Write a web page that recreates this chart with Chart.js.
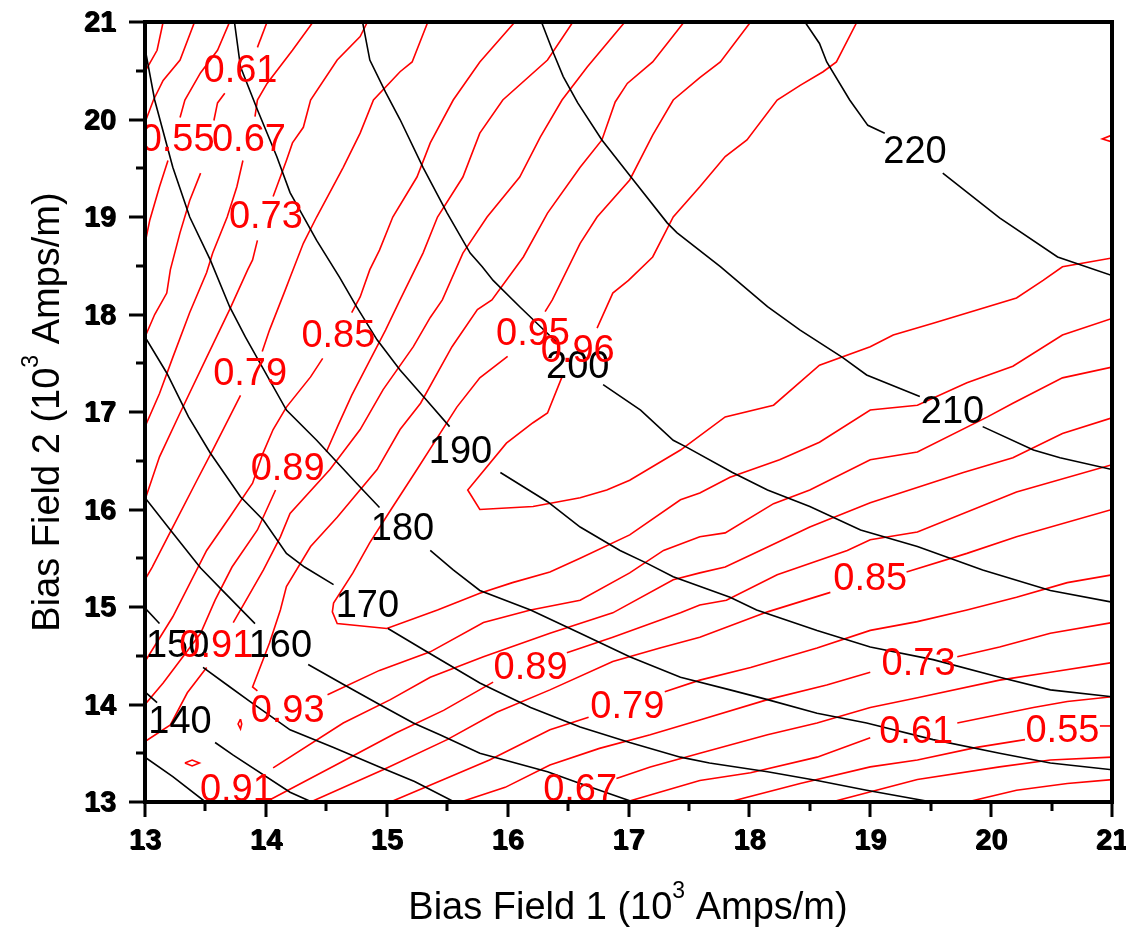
<!DOCTYPE html>
<html>
<head>
<meta charset="utf-8">
<script src="https://cdn.jsdelivr.net/npm/chart.js@4.4.1/dist/chart.umd.min.js"></script>
<style>
  html, body { margin: 0; padding: 0; background: #ffffff; }
  #wrap { width: 1126px; height: 928px; }
</style>
</head>
<body>
<div id="wrap"><canvas id="plot" width="1126" height="928"></canvas></div>
<script>
// Axis ticks (10^3 Amps/m)
const xTicks = [13, 14, 15, 16, 17, 18, 19, 20, 21];
const yTicks = [13, 14, 15, 16, 17, 18, 19, 20, 21];

// Ratio contours (red), each level split into segments at its labels
const ratio043 = [
  [[13.15, 21], [13.10, 20.71], [13.0, 20.49]],
  [[19.80, 13.0], [20.21, 13.12], [20.63, 13.19], [21, 13.23]]
];
const ratio049 = [
  [[13.41, 21], [13.29, 20.61], [13.15, 20.40], [13.07, 20.20], [13.0, 19.97]],
  [[18.68, 13.0], [19.39, 13.23], [20.07, 13.36], [20.49, 13.43], [21, 13.46]]
];
const ratio055 = [
  [[13.70, 21], [13.60, 20.71], [13.46, 20.48], [13.33, 20.20], [13.29, 20.02]],
  [[13.19, 19.58], [13.12, 19.31], [13.04, 18.97], [13.0, 18.73]],
  [[17.83, 13.0], [18.42, 13.19], [19.0, 13.36], [19.39, 13.43], [19.88, 13.56], [20.28, 13.64]],
  [[20.90, 13.78], [21, 13.78]]
];
const ratio061 = [
  [[14.01, 21], [13.93, 20.74]],
  [[13.66, 20.27], [13.60, 20.17], [13.57, 19.99]],
  [[13.46, 19.45], [13.37, 19.17], [13.29, 18.84], [13.21, 18.46], [13.18, 18.22], [13.08, 18.0], [13.0, 17.77]],
  [[16.98, 13.0], [17.59, 13.22], [18.01, 13.30], [18.56, 13.46], [19.0, 13.66]],
  [[19.72, 13.81], [20.35, 13.97], [20.63, 14.03], [21, 14.08]]
];
const ratio067 = [
  [[14.39, 21], [14.22, 20.71], [14.01, 20.37], [13.93, 20.20], [13.91, 20.03]],
  [[13.81, 19.58], [13.76, 19.31], [13.68, 19.0], [13.56, 18.63], [13.51, 18.43], [13.37, 18.02], [13.23, 17.56], [13.12, 17.19], [13.0, 16.85]],
  [[16.90, 13.24], [17.18, 13.36], [17.59, 13.50], [18.15, 13.69], [18.56, 13.81], [19.0, 13.97], [19.39, 14.07], [20.07, 14.25], [20.49, 14.33], [21, 14.43]]
];
const ratio073 = [
  [[14.84, 21], [14.78, 20.85], [14.59, 20.61], [14.37, 20.20], [14.31, 19.92], [14.22, 19.76], [14.17, 19.58], [14.06, 19.21]],
  [[13.93, 18.76], [13.89, 18.56], [13.85, 18.46], [13.70, 18.05], [13.51, 17.56], [13.29, 16.99], [13.12, 16.54], [13.0, 16.10]],
  [[15.61, 13.0], [15.98, 13.15], [16.35, 13.38], [16.76, 13.55], [17.18, 13.69], [17.59, 13.84], [18.15, 14.05], [18.64, 14.20], [19.0, 14.33]],
  [[19.72, 14.49], [20.07, 14.59], [20.49, 14.73], [21, 14.84]]
];
const ratio079 = [
  [[15.34, 21], [15.21, 20.59], [15.11, 20.49], [14.89, 20.20], [14.78, 19.86], [14.64, 19.51], [14.42, 19.0], [14.31, 18.73], [14.20, 18.38], [14.16, 18.25], [14.03, 17.84], [13.97, 17.62]],
  [[13.79, 17.17], [13.70, 16.95], [13.56, 16.61], [13.43, 16.30], [13.23, 15.82], [13.06, 15.41], [13.0, 15.28]],
  [[15.03, 13.0], [15.47, 13.23], [15.85, 13.43], [16.35, 13.74], [16.67, 13.87]],
  [[17.30, 14.13], [17.59, 14.25], [18.01, 14.38], [18.56, 14.58], [19.0, 14.76], [19.39, 14.85], [19.80, 14.97], [20.21, 15.10], [20.63, 15.25], [21, 15.33]]
];
const ratio085 = [
  [[16.06, 21], [15.77, 20.59], [15.55, 20.20], [15.36, 19.76], [15.25, 19.41], [15.05, 19.0], [14.94, 18.66], [14.86, 18.46], [14.78, 18.18], [14.71, 18.02]],
  [[14.47, 17.55], [14.37, 17.36], [14.17, 17.05], [14.06, 16.82], [13.97, 16.56], [13.89, 16.27], [13.70, 15.92], [13.51, 15.58], [13.23, 14.90], [13.0, 14.44]],
  [[14.37, 13.0], [14.97, 13.33], [15.50, 13.64], [15.91, 13.92], [16.35, 14.15], [16.87, 14.44], [17.26, 14.58], [17.59, 14.69], [18.15, 14.95], [18.67, 15.15]],
  [[19.30, 15.36], [19.80, 15.55], [20.21, 15.72], [21, 16.0]]
];
const ratio089 = [
  [[16.54, 21], [16.33, 20.61], [15.96, 20.20], [15.77, 19.86], [15.63, 19.41], [15.42, 19.0], [15.30, 18.63], [15.11, 18.15], [14.99, 17.84], [14.86, 17.53], [14.71, 17.17], [14.60, 16.87], [14.50, 16.59]],
  [[14.08, 16.20], [13.93, 15.79], [13.72, 15.41], [13.58, 15.07], [13.46, 14.73], [13.15, 14.22], [13.0, 14.0]],
  [[14.03, 13.02], [14.61, 13.40], [15.08, 13.71], [15.47, 13.94], [15.88, 14.23]],
  [[16.49, 14.53], [16.87, 14.69], [17.43, 14.94], [17.59, 15.02], [17.81, 15.07], [18.23, 15.33], [18.81, 15.58], [19.0, 15.69], [19.39, 15.77], [20.21, 16.18], [21, 16.46]]
];
const ratio091 = [
  [[16.97, 21], [16.66, 20.54], [16.45, 20.20], [16.27, 19.82], [16.10, 19.41], [15.83, 19.0], [15.63, 18.63], [15.46, 18.15], [15.36, 17.97], [15.22, 17.67], [14.97, 17.23], [14.78, 16.82], [14.53, 16.41], [14.20, 15.96], [14.12, 15.72], [13.98, 15.38], [13.73, 14.84]],
  [[13.51, 14.38], [13.35, 14.12], [13.21, 13.79], [13.0, 13.62]],
  [[14.06, 13.35], [14.64, 13.81], [15.03, 14.05], [15.36, 14.28], [15.80, 14.49], [16.35, 14.73], [16.87, 14.94], [17.37, 15.28], [17.59, 15.35], [17.80, 15.41], [18.09, 15.58], [18.50, 15.82], [19.0, 16.07], [19.77, 16.38], [20.18, 16.53], [20.59, 16.78], [21, 16.94]]
];
const ratio093 = [
  [[17.46, 21], [17.20, 20.59], [16.99, 20.37], [16.89, 20.18], [16.78, 19.79], [16.60, 19.51], [16.33, 19.04], [16.13, 18.59], [15.87, 18.15], [15.75, 18.05], [15.54, 17.67], [15.28, 17.09], [15.11, 16.82], [14.92, 16.41], [14.59, 15.92], [14.37, 15.62], [14.17, 15.21], [14.12, 14.97], [14.03, 14.63], [13.89, 14.18], [13.93, 14.14]],
  [[14.51, 14.10], [14.94, 14.35], [15.36, 14.54], [15.80, 14.84], [16.19, 14.97], [16.60, 15.07], [17.01, 15.35], [17.29, 15.58], [17.59, 15.72], [17.80, 15.76], [18.20, 16.06], [18.50, 16.20], [19.0, 16.51], [19.39, 16.59], [19.97, 16.95], [20.18, 17.09], [20.59, 17.35], [21, 17.46]],
  [[13.79, 13.85], [13.80, 13.80], [13.79, 13.75], [13.77, 13.80], [13.79, 13.85]],
  [[13.33, 13.40], [13.39, 13.43], [13.45, 13.40], [13.39, 13.37], [13.33, 13.40]]
];
const ratio095 = [
  [[18.01, 21], [17.76, 20.59], [17.59, 20.43], [17.37, 20.20], [17.20, 19.84], [17.01, 19.38], [16.74, 19.0], [16.60, 18.73], [16.37, 18.15], [16.31, 18.03]],
  [[16.00, 17.57], [15.77, 17.35], [15.58, 17.05], [15.42, 16.74], [15.25, 16.41], [15.03, 15.99], [14.86, 15.66], [14.72, 15.35], [14.56, 15.04], [14.55, 14.95], [14.59, 14.83], [15.0, 14.78], [15.42, 14.97], [15.77, 15.14], [16.04, 15.25], [16.35, 15.36], [16.60, 15.50], [17.01, 15.74], [17.43, 16.10], [17.59, 16.17], [17.84, 16.33], [18.25, 16.51], [18.58, 16.69], [19.0, 17.02], [19.39, 17.07], [19.80, 17.30], [20.18, 17.47], [20.59, 17.79], [21, 17.96]]
];
const ratio096 = [
  [[18.89, 21], [18.72, 20.59], [18.61, 20.49], [18.42, 20.35], [18.23, 20.20], [17.98, 19.79], [17.80, 19.62], [17.59, 19.31], [17.37, 19.0], [17.20, 18.59], [17.0, 18.35], [16.87, 18.22], [16.74, 17.86]],
  [[16.45, 17.36], [16.33, 16.99], [16.21, 16.89], [15.99, 16.68], [15.67, 16.20], [15.77, 16.0], [16.21, 16.03], [16.60, 16.12], [16.82, 16.20], [17.01, 16.30], [17.43, 16.61], [17.80, 16.95], [18.20, 17.07], [18.58, 17.48], [19.0, 17.67], [19.19, 17.79], [19.52, 17.91], [20.21, 18.17], [20.43, 18.35], [20.59, 18.49], [21, 18.58]],
  [[21, 19.84], [20.92, 19.80], [21, 19.77]]
];

// Value contours (black)
const value130 = [
  [[13.0, 13.46], [13.23, 13.26], [13.50, 13.0]]
];
const value140 = [
  [[13.0, 14.13], [13.10, 14.02]],
  [[13.58, 13.61], [13.73, 13.48], [14.20, 13.10], [14.38, 13.0]]
];
const value150 = [
  [[13.0, 14.99], [13.12, 14.83]],
  [[13.48, 14.38], [13.68, 14.20], [13.87, 14.03], [14.20, 13.74], [14.56, 13.56], [14.94, 13.36], [15.23, 13.21], [15.56, 13.0]]
];
const value160 = [
  [[13.0, 16.12], [13.21, 15.79], [13.46, 15.40], [13.64, 15.17], [13.91, 14.83]],
  [[14.35, 14.41], [14.65, 14.20], [14.94, 14.0], [15.22, 13.81], [15.44, 13.69], [15.77, 13.50], [16.33, 13.31], [16.60, 13.19], [17.04, 13.0]]
];
const value170 = [
  [[13.0, 17.77], [13.18, 17.40], [13.36, 16.95], [13.54, 16.58], [13.79, 16.13], [13.98, 15.89], [14.17, 15.55], [14.32, 15.41], [14.56, 15.23]],
  [[15.01, 14.78], [15.36, 14.52], [15.77, 14.22], [16.19, 13.97], [16.60, 13.77], [17.01, 13.61], [17.43, 13.46], [17.67, 13.40], [18.15, 13.31], [18.56, 13.22], [18.97, 13.12], [19.51, 13.0]]
];
const value180 = [
  [[13.0, 20.73], [13.08, 20.20], [13.23, 19.51], [13.37, 19.0], [13.54, 18.56], [13.70, 18.08], [13.83, 17.77], [14.17, 17.02], [14.42, 16.71], [14.75, 16.27], [14.94, 16.02]],
  [[15.36, 15.58], [15.55, 15.38], [15.77, 15.17], [16.19, 14.97], [16.60, 14.73], [17.01, 14.49], [17.43, 14.28], [17.84, 14.15], [18.15, 14.05], [18.56, 13.91], [18.97, 13.81], [19.52, 13.64], [20.07, 13.50], [20.49, 13.40], [21, 13.33]]
];
const value190 = [
  [[13.74, 21], [13.79, 20.54], [13.93, 20.10], [14.09, 19.62], [14.20, 19.25], [14.42, 18.76], [14.61, 18.38], [14.75, 18.08], [14.92, 17.74], [15.11, 17.43], [15.33, 17.12], [15.52, 16.85]],
  [[15.94, 16.38], [16.33, 16.08], [16.60, 15.82], [16.93, 15.58], [17.15, 15.45], [17.37, 15.31], [17.84, 15.10], [18.06, 14.97], [18.56, 14.76], [19.0, 14.59], [19.52, 14.46], [20.07, 14.28], [20.49, 14.15], [21, 14.08]]
];
const value200 = [
  [[14.80, 21], [14.86, 20.61], [14.99, 20.28], [15.11, 20.0], [15.30, 19.51], [15.50, 19.04], [15.69, 18.63], [15.79, 18.49], [15.88, 18.35], [16.10, 18.08], [16.41, 17.71]],
  [[16.79, 17.28], [17.10, 17.02], [17.37, 16.71], [17.48, 16.64], [17.86, 16.38], [18.15, 16.20], [18.50, 16.03], [18.92, 15.79], [19.39, 15.62], [19.93, 15.38], [20.49, 15.17], [21, 15.05]]
];
const value210 = [
  [[16.28, 21], [16.38, 20.68], [16.46, 20.44], [16.58, 20.17], [16.78, 19.79], [17.04, 19.38], [17.32, 18.94], [17.40, 18.84], [17.76, 18.49], [18.15, 18.08], [18.42, 17.84], [18.77, 17.56], [18.97, 17.38], [19.41, 17.16]],
  [[19.93, 16.85], [20.35, 16.61], [20.57, 16.53], [21, 16.41]]
];
const value220 = [
  [[18.46, 21], [18.58, 20.78], [18.64, 20.59], [18.83, 20.20], [18.98, 19.94], [19.12, 19.86]],
  [[19.60, 19.45], [20.07, 18.99], [20.55, 18.59], [21, 18.40]]
];

// Inline contour labels: text and anchor (data units)
const valueLabelText = ['140', '150', '160', '170', '180', '190', '200', '210', '220'];
const valueLabelX = [13.29, 13.27, 14.12, 14.84, 15.13, 15.61, 16.58, 19.68, 19.37];
const valueLabelY = [13.82, 14.59, 14.59, 15.0, 15.79, 16.58, 17.46, 16.99, 19.66];

const ratioLabelText = ['0.61', '0.55', '0.67', '0.73', '0.79', '0.85', '0.89', '0.91', '0.93', '0.91',
  '0.95', '0.96', '0.89', '0.79', '0.67', '0.85', '0.73', '0.61', '0.55'];
const ratioLabelX = [13.79, 13.27, 13.86, 14.0, 13.87, 14.60, 14.18, 13.59, 14.18, 13.76,
  16.21, 16.58, 16.19, 16.99, 16.60, 19.0, 19.40, 19.38, 20.59];
const ratioLabelY = [20.49, 19.78, 19.78, 18.99, 17.38, 17.77, 16.41, 14.59, 13.93, 13.12,
  17.79, 17.62, 14.37, 13.97, 13.12, 15.28, 14.41, 13.71, 13.72];

const ratioLevels = [
  [0.43, ratio043], [0.49, ratio049], [0.55, ratio055], [0.61, ratio061], [0.67, ratio067],
  [0.73, ratio073], [0.79, ratio079], [0.85, ratio085], [0.89, ratio089], [0.91, ratio091],
  [0.93, ratio093], [0.95, ratio095], [0.96, ratio096]
];
const valueLevels = [
  [130, value130], [140, value140], [150, value150], [160, value160], [170, value170],
  [180, value180], [190, value190], [200, value200], [210, value210], [220, value220]
];

const FONT = '"Liberation Sans", Arial, Helvetica, sans-serif';
const LABEL_FONT = '38px ' + FONT;
const TITLE_SIZE = 38;
const SUP_SIZE = 23;

const toDatasets = (levels, color) => {
  const sets = [];
  levels.forEach(([level, segments]) => {
    segments.forEach((segment) => {
      sets.push({
        label: String(level),
        data: segment.map(([x, y]) => ({ x, y })),
        showLine: true,
        borderColor: color,
        borderWidth: 1.6,
        pointRadius: 0,
        pointHoverRadius: 0,
        tension: 0,
        fill: false,
      });
    });
  });
  return sets;
};

const contourLabels = {
  id: 'contourLabels',
  afterDatasetsDraw(chart) {
    const { ctx, chartArea, scales } = chart;
    ctx.save();
    ctx.beginPath();
    ctx.rect(chartArea.left, chartArea.top, chartArea.right - chartArea.left, chartArea.bottom - chartArea.top);
    ctx.clip();
    ctx.font = LABEL_FONT;
    ctx.textAlign = 'center';
    ctx.textBaseline = 'middle';

    ctx.fillStyle = '#000000';
    valueLabelText.forEach((text, i) => {
      ctx.fillText(text, scales.x.getPixelForValue(valueLabelX[i]), scales.y.getPixelForValue(valueLabelY[i]));
    });

    ctx.fillStyle = '#ff0000';
    ratioLabelText.forEach((text, i) => {
      ctx.fillText(text, scales.x.getPixelForValue(ratioLabelX[i]), scales.y.getPixelForValue(ratioLabelY[i]));
    });
    ctx.restore();
  },
};

const drawTitle = (ctx, parts) => {
  const widths = parts.map(([text, sup]) => {
    ctx.font = (sup ? SUP_SIZE : TITLE_SIZE) + 'px ' + FONT;
    return ctx.measureText(text).width;
  });
  const total = widths.reduce((a, b) => a + b, 0);
  let x = -total / 2;
  parts.forEach(([text, sup], i) => {
    ctx.font = (sup ? SUP_SIZE : TITLE_SIZE) + 'px ' + FONT;
    ctx.fillText(text, x, sup ? -7 : 14);
    x += widths[i];
  });
};

const axisFrame = {
  id: 'axisFrame',
  afterDraw(chart) {
    const { ctx, chartArea, scales } = chart;
    const { left, right, top, bottom } = chartArea;
    ctx.save();

    // tick marks, pointing outward on the left and bottom axes
    ctx.strokeStyle = '#000000';
    ctx.lineWidth = 3;
    ctx.beginPath();
    for (let v = 13; v <= 21; v += 0.5) {
      const major = Number.isInteger(v);
      const py = Math.round(scales.y.getPixelForValue(v));
      ctx.moveTo(left, py);
      ctx.lineTo(left - (major ? 16 : 9), py);
      const px = Math.round(scales.x.getPixelForValue(v));
      ctx.moveTo(px, bottom);
      ctx.lineTo(px, bottom + (major ? 15 : 9));
    }
    ctx.stroke();

    ctx.lineWidth = 4;
    ctx.strokeRect(left, top, right - left, bottom - top);

    // tick labels, printed twice with a small offset for the heavy look
    ctx.fillStyle = '#000000';
    ctx.font = 'bold 29px ' + FONT;
    ctx.textAlign = 'right';
    ctx.textBaseline = 'middle';
    yTicks.forEach((v) => {
      const py = scales.y.getPixelForValue(v) + 1;
      ctx.fillText(String(v), 116, py);
      ctx.fillText(String(v), 117, py + 1);
    });
    ctx.textAlign = 'center';
    ctx.textBaseline = 'top';
    xTicks.forEach((v) => {
      const px = scales.x.getPixelForValue(v);
      ctx.fillText(String(v), px, 826);
      ctx.fillText(String(v), px + 1, 827);
    });

    // axis titles
    ctx.textAlign = 'left';
    ctx.textBaseline = 'alphabetic';
    ctx.save();
    ctx.translate(628, 905);
    drawTitle(ctx, [['Bias Field 1 (10', false], ['3', true], [' Amps/m)', false]]);
    ctx.restore();
    ctx.save();
    ctx.translate(45, 412);
    ctx.rotate(-Math.PI / 2);
    drawTitle(ctx, [['Bias Field 2 (10', false], ['3', true], [' Amps/m)', false]]);
    ctx.restore();

    ctx.restore();
  },
};

new Chart(document.getElementById('plot'), {
  type: 'scatter',
  data: {
    datasets: [
      ...toDatasets(valueLevels, '#000000'),
      ...toDatasets(ratioLevels, '#ff0000'),
    ],
  },
  plugins: [contourLabels, axisFrame],
  options: {
    responsive: false,
    animation: false,
    events: [],
    layout: { padding: { left: 0, top: 22, right: 14, bottom: 0 } },
    plugins: {
      legend: { display: false },
      tooltip: { enabled: false },
    },
    scales: {
      x: {
        type: 'linear',
        min: 13,
        max: 21,
        ticks: { display: false, stepSize: 1 },
        grid: { display: false },
        border: { display: false },
        afterFit: (scale) => { scale.height = 126; },
      },
      y: {
        type: 'linear',
        min: 13,
        max: 21,
        ticks: { display: false, stepSize: 1 },
        grid: { display: false },
        border: { display: false },
        afterFit: (scale) => { scale.width = 145; },
      },
    },
  },
});
</script>
</body>
</html>
